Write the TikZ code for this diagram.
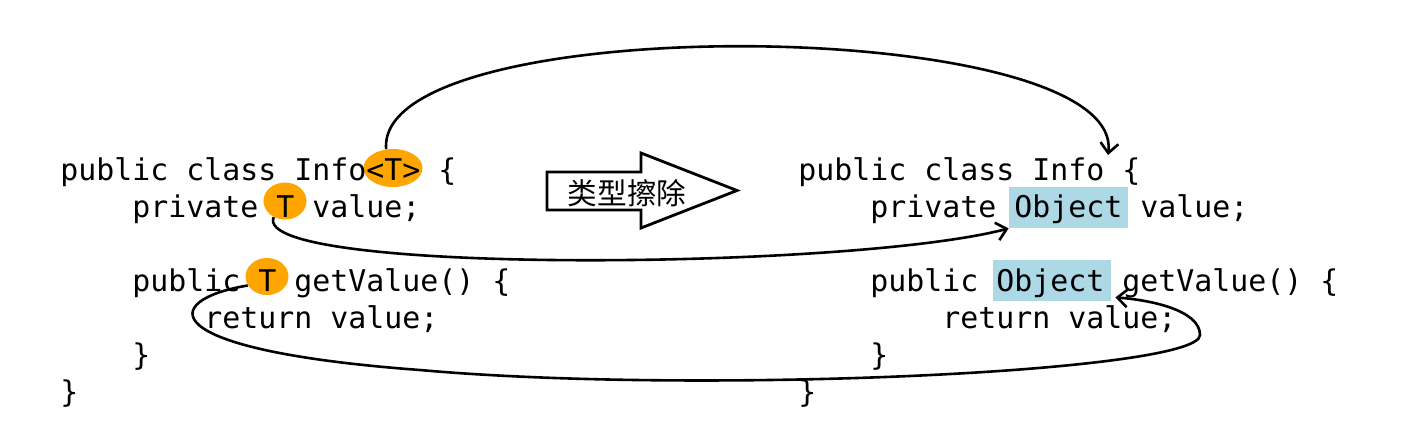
\documentclass[tikz,border=0pt]{standalone}
\usepackage{fontspec}
\setmonofont{DejaVu Sans Mono}
\newfontfamily\cjk{Noto Sans CJK SC}
\usetikzlibrary{shapes,arrows,arrows.meta,positioning,calc}
\definecolor{tagorange}{HTML}{FFA500}
\definecolor{objblue}{HTML}{ADD8E6}

\begin{document}
\begin{tikzpicture}[x=0.5pt, y=-0.5pt,
  code/.style={anchor=base west, inner sep=0pt, font=\ttfamily\fontsize{14.95}{18}\selectfont},
  tmark/.style={fill=tagorange, ellipse, inner sep=0pt},
  objmark/.style={fill=objblue, rectangle, inner sep=0pt, minimum height=20.5pt},
  link/.style={-{Straight Barb[length=5pt, width=9pt]}, line width=1.3pt}]
\useasboundingbox (0,0) rectangle (1401,446);

% 标记
\node[tmark, minimum width=29.5pt, minimum height=19pt] (tA) at (393,168) {};
\node[tmark, minimum width=21.5pt, minimum height=18.5pt] (tB) at (285,201) {};
\node[tmark, minimum width=21.5pt, minimum height=18.5pt] (tC) at (267,276.5) {};
\node[objmark, minimum width=59.5pt] (objA) at (1068.5,207.5) {};
\node[objmark, minimum width=59pt] (objB) at (1052,280.5) {};

% 泛型代码
\node[code] (lA) at (60,180) {public class Info<T> \{};
\node[code] (lB) at (132,217) {private T value;};
\node[code] (lC) at (132,291) {public T getValue() \{};
\node[code] (lD) at (204,328) {return value;};
\node[code] (lE) at (132,365) {\}};
\node[code] (lF) at (60,402) {\}};

% 擦除后的代码
\node[code] (rA) at (798,180) {public class Info \{};
\node[code] (rB) at (870,217) {private Object value;};
\node[code] (rC) at (870,291) {public Object getValue() \{};
\node[code] (rD) at (942,328) {return value;};
\node[code] (rE) at (870,365) {\}};
\node[code] (rF) at (798,402) {\}};
\coordinate (infoR) at (1108,155);

% 中间的大箭头
\draw[line width=1.4pt] (547,172) -- (641,172) -- (641,153) -- (737,190.5)
  -- (641,228) -- (641,210) -- (547,210) -- cycle;
\node[inner sep=0pt, font=\cjk\fontsize{14.8}{16}\selectfont] (erase) at (627,193) {类型擦除};

% 连接
\draw[link] (tA.110) .. controls (375,8) and (1125,15) .. (infoR);
\draw[link] (tB.235) .. controls (250,275) and (850,270) .. (objA.south west);
\draw[link] (tC.205) .. controls (160,300) and (150,350) .. (420,370)
  .. controls (700,395) and (1200,372) .. (1200,335)
  .. controls (1200,310) and (1150,300) .. ([shift={(2pt,2pt)}]objB.south east);
\end{tikzpicture}
\end{document}
